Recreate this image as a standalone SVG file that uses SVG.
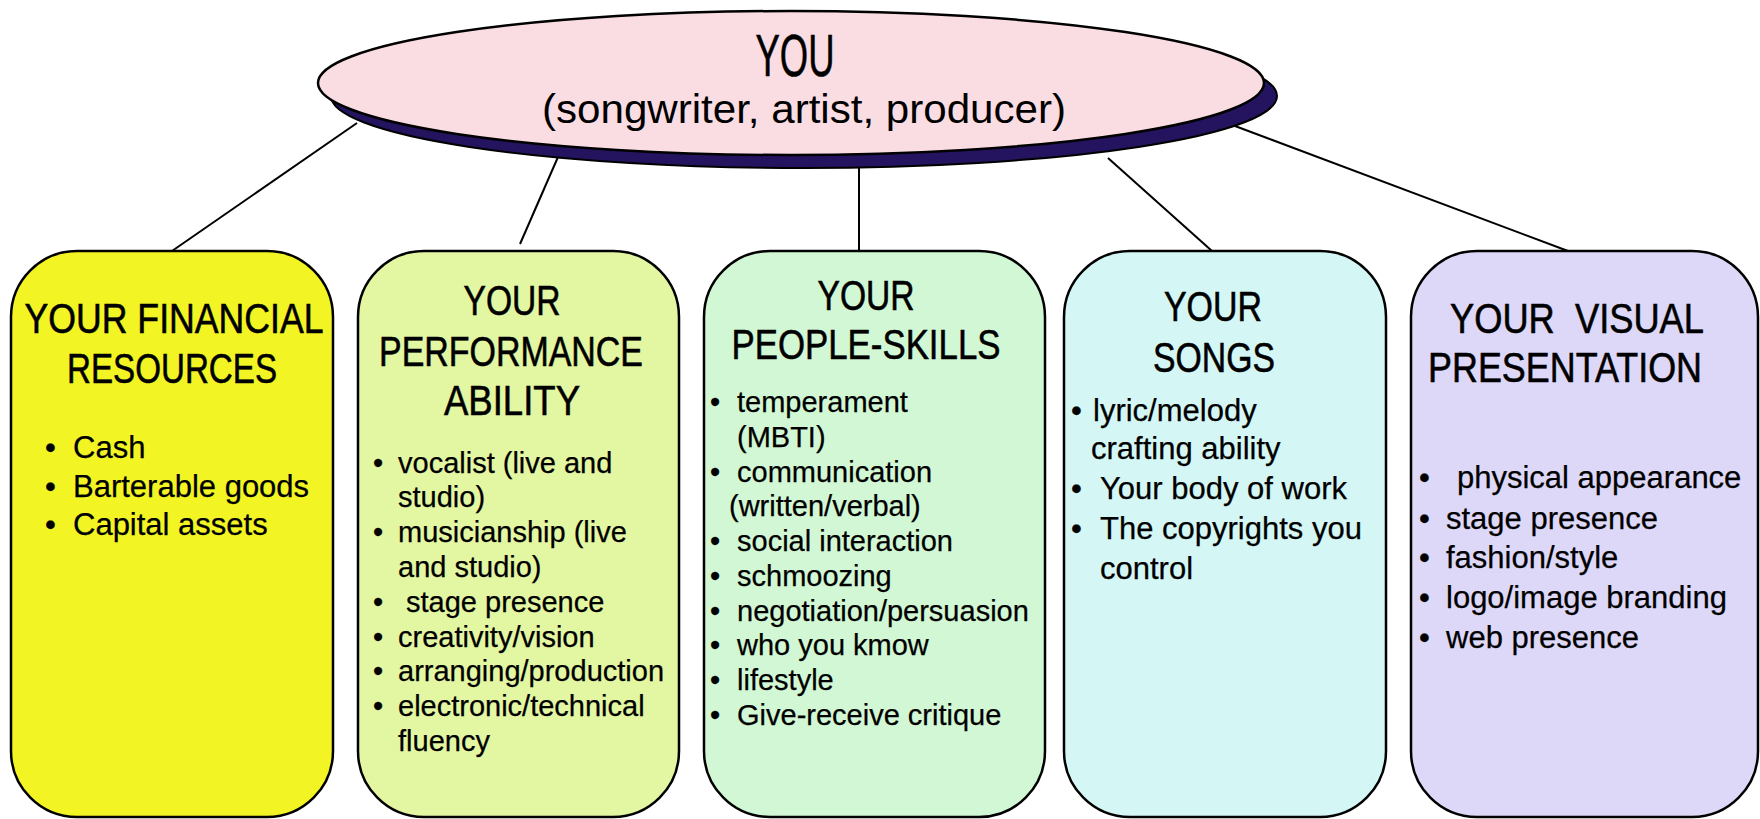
<svg xmlns="http://www.w3.org/2000/svg" width="1760" height="819" viewBox="0 0 1760 819">
<style>
.box{stroke:#000;stroke-width:2.5}
.ttl{font-family:"Liberation Sans",Arial,sans-serif;font-size:43px;fill:#000;stroke:#000;stroke-width:0.6;text-anchor:middle}
.b{font-family:"Liberation Sans",Arial,sans-serif;fill:#000;stroke:#000;stroke-width:0.25}
.conn line{stroke:#000;stroke-width:2}
</style>
<rect width="1760" height="819" fill="#fff"/>
<g id="connectors" class="conn">
<line x1="357" y1="123" x2="172" y2="251"/>
<line x1="558" y1="157" x2="520" y2="244"/>
<line x1="859" y1="168" x2="859" y2="251"/>
<line x1="1108" y1="158" x2="1212" y2="251"/>
<line x1="1235" y1="126" x2="1568" y2="251"/>
</g>
<g id="you">
<ellipse cx="804" cy="96" rx="473" ry="72" fill="#24135e" stroke="#000" stroke-width="2"/>
<ellipse cx="791" cy="83" rx="473" ry="72" fill="#fadde2" stroke="#000" stroke-width="2.5"/>
<text x="795" y="76" font-family="'Liberation Sans',Arial,sans-serif" font-size="60" stroke="#000" stroke-width="0.6" text-anchor="middle" textLength="79" lengthAdjust="spacingAndGlyphs">YOU</text>
<text x="804" y="123" font-family="'Liberation Sans',Arial,sans-serif" font-size="40" text-anchor="middle" textLength="524" lengthAdjust="spacingAndGlyphs">(songwriter, artist, producer)</text>
</g>
<g id="financial">
<rect class="box" x="11" y="251" width="322" height="566" rx="66" ry="66" fill="#f2f523"/>
<text class="ttl" x="174" y="333" textLength="299" lengthAdjust="spacingAndGlyphs">YOUR FINANCIAL</text>
<text class="ttl" x="172" y="383" textLength="210" lengthAdjust="spacingAndGlyphs">RESOURCES</text>
<g class="b" font-size="31">
<text x="45" y="458">•</text><text x="73" y="458">Cash</text>
<text x="45" y="497">•</text><text x="73" y="497">Barterable goods</text>
<text x="45" y="535">•</text><text x="73" y="535">Capital assets</text>
</g>
</g>
<g id="performance">
<rect class="box" x="358" y="251" width="321" height="566" rx="66" ry="66" fill="#e3f6a2"/>
<text class="ttl" x="512" y="315" textLength="97" lengthAdjust="spacingAndGlyphs">YOUR</text>
<text class="ttl" x="511" y="366" textLength="264" lengthAdjust="spacingAndGlyphs">PERFORMANCE</text>
<text class="ttl" x="512" y="415" textLength="136" lengthAdjust="spacingAndGlyphs">ABILITY</text>
<g class="b" font-size="29">
<text x="373" y="473">•</text><text x="398" y="473">vocalist (live and</text>
<text x="398" y="507">studio)</text>
<text x="373" y="542">•</text><text x="398" y="542">musicianship (live</text>
<text x="398" y="577">and studio)</text>
<text x="373" y="612">•</text><text x="406" y="612">stage presence</text>
<text x="373" y="647">•</text><text x="398" y="647">creativity/vision</text>
<text x="373" y="681">•</text><text x="398" y="681">arranging/production</text>
<text x="373" y="716">•</text><text x="398" y="716">electronic/technical</text>
<text x="398" y="751">fluency</text>
</g>
</g>
<g id="people">
<rect class="box" x="704" y="251" width="341" height="566" rx="66" ry="66" fill="#d2f7d4"/>
<text class="ttl" x="866" y="310" textLength="97" lengthAdjust="spacingAndGlyphs">YOUR</text>
<text class="ttl" x="866" y="359" textLength="269" lengthAdjust="spacingAndGlyphs">PEOPLE-SKILLS</text>
<g class="b" font-size="29">
<text x="710" y="412">•</text><text x="737" y="412">temperament</text>
<text x="737" y="447">(MBTI)</text>
<text x="710" y="482">•</text><text x="737" y="482">communication</text>
<text x="729" y="516">(written/verbal)</text>
<text x="710" y="551">•</text><text x="737" y="551">social interaction</text>
<text x="710" y="586">•</text><text x="737" y="586">schmoozing</text>
<text x="710" y="621">•</text><text x="737" y="621">negotiation/persuasion</text>
<text x="710" y="655">•</text><text x="737" y="655">who you kmow</text>
<text x="710" y="690">•</text><text x="737" y="690">lifestyle</text>
<text x="710" y="725">•</text><text x="737" y="725">Give-receive critique</text>
</g>
</g>
<g id="songs">
<rect class="box" x="1064" y="251" width="322" height="566" rx="66" ry="66" fill="#d4f7f6"/>
<text class="ttl" x="1213" y="321" textLength="98" lengthAdjust="spacingAndGlyphs">YOUR</text>
<text class="ttl" x="1214" y="372" textLength="122" lengthAdjust="spacingAndGlyphs">SONGS</text>
<g class="b" font-size="31">
<text x="1071" y="421">•</text><text x="1093" y="421">lyric/melody</text>
<text x="1091" y="459">crafting ability</text>
<text x="1071" y="499">•</text><text x="1100" y="499">Your body of work</text>
<text x="1071" y="539">•</text><text x="1100" y="539">The copyrights you</text>
<text x="1100" y="579">control</text>
</g>
</g>
<g id="visual">
<rect class="box" x="1411" y="251" width="347" height="566" rx="66" ry="66" fill="#ddd8f7"/>
<text class="ttl" x="1577" y="333" textLength="254" lengthAdjust="spacingAndGlyphs" xml:space="preserve">YOUR  VISUAL</text>
<text class="ttl" x="1565" y="382" textLength="274" lengthAdjust="spacingAndGlyphs">PRESENTATION</text>
<g class="b" font-size="31">
<text x="1419" y="488">•</text><text x="1457" y="488">physical appearance</text>
<text x="1419" y="529">•</text><text x="1446" y="529">stage presence</text>
<text x="1419" y="568">•</text><text x="1446" y="568">fashion/style</text>
<text x="1419" y="608">•</text><text x="1446" y="608">logo/image branding</text>
<text x="1419" y="648">•</text><text x="1446" y="648">web presence</text>
</g>
</g>
</svg>
